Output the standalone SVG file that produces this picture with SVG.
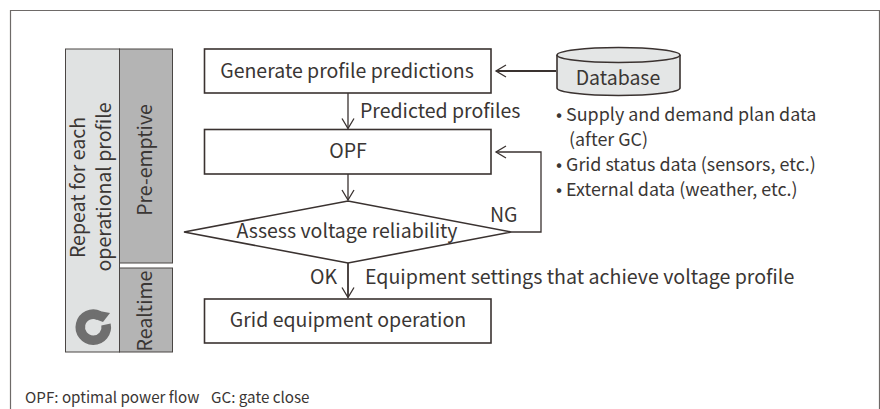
<svg xmlns="http://www.w3.org/2000/svg" width="880" height="409" viewBox="0 0 880 409">
<style>
text{font-family:"Noto Sans CJK JP","Noto Sans",sans-serif;fill:#3a3634;font-size:19.500px}
.m{text-anchor:middle}
.n{fill:#fff;stroke:#3a3230;stroke-width:1.6}
.g{stroke:#4a4644;stroke-width:1}
.c{fill:none;stroke:#3a3230;stroke-width:1.3}
.s{font-size:17.900px}
.f{font-size:15.200px}
</style>
<defs><marker id="a" markerUnits="userSpaceOnUse" markerWidth="14" markerHeight="16" refX="12" refY="8" orient="auto"><path d="M2 2 12 8 2 14" fill="none" stroke="#3a3230" stroke-width="1.3"/></marker></defs>
<rect width="880" height="409" fill="#fff"/>
<path d="M10.500 409V10.500H879.500V409" fill="none" stroke="#6e6a68" stroke-width="1.2"/>
<g id="repeat"><rect class="g" x="65.500" y="49" width="54" height="303" fill="#e0e2e2"/>
<text class="m" transform="translate(85 187.500) rotate(-90)">Repeat for each</text>
<text class="m" transform="translate(111 187) rotate(-90)">operational profile</text>
<path d="M106 324.500A13 13 0 1 1 99 315.500" fill="none" stroke="#6f6f6f" stroke-width="9.500"/><path d="M94 310 110 313 103 322 95 319Z" fill="#6f6f6f"/></g>
<g id="preemptive"><rect class="g" x="119.500" y="49" width="53" height="214" fill="#b4b4b4"/><text class="m" transform="translate(152 160) rotate(-90)">Pre-emptive</text></g>
<g id="realtime"><rect class="g" x="119.500" y="268" width="53" height="84" fill="#b4b4b4"/><text class="m" transform="translate(152 311) rotate(-90)">Realtime</text></g>
<g id="connectors">
<path class="c" d="M348 93V128.500" marker-end="url(#a)"/>
<path class="c" d="M348 174V200" marker-end="url(#a)"/>
<path class="c" style="stroke-width:1.800" d="M348 263V297.500" marker-end="url(#a)"/>
<path class="c" style="stroke-width:1.800" d="M556 71H496" marker-end="url(#a)"/>
<path class="c" d="M511 232H541V152H496" marker-end="url(#a)"/>
</g>
<g id="generate"><rect class="n" x="204.500" y="49" width="286.500" height="44"/><text class="m" x="347" y="78">Generate profile predictions</text></g>
<g id="opf"><rect class="n" x="204.500" y="129.500" width="286.500" height="44.500"/><text class="m" x="348" y="158">OPF</text></g>
<g id="assess"><path class="n" d="M184 232 348 201 511 232 348 263Z"/><text class="m" x="347" y="238">Assess voltage reliability</text></g>
<g id="operation"><rect class="n" x="204.500" y="299" width="286.500" height="44"/><text class="m" x="348" y="327">Grid equipment operation</text></g>
<g id="database"><path d="M557 55V88A61.500 7.500 0 0 0 680 88V55" fill="#e4e6e6" stroke="#3a3230" stroke-width="1.600"/><ellipse cx="618.500" cy="55" rx="61.500" ry="7.500" fill="#e4e6e6" stroke="#3a3230" stroke-width="1.600"/><text class="m" x="618" y="85">Database</text></g>
<g id="labels">
<text x="360" y="118">Predicted profiles</text>
<text x="490" y="222">NG</text>
<text x="310" y="284">OK</text>
<text x="365" y="284" style="font-size:19.600px">Equipment settings that achieve voltage profile</text>
<text x="556" y="121" class="s">• Supply and demand plan data</text>
<text x="569" y="146" class="s">(after GC)</text>
<text x="556" y="171" class="s">• Grid status data (sensors, etc.)</text>
<text x="556" y="196" class="s">• External data (weather, etc.)</text>
<text x="25" y="403" class="f">OPF: optimal power flow</text>
<text x="211" y="403" class="f">GC: gate close</text>
</g>
</svg>
